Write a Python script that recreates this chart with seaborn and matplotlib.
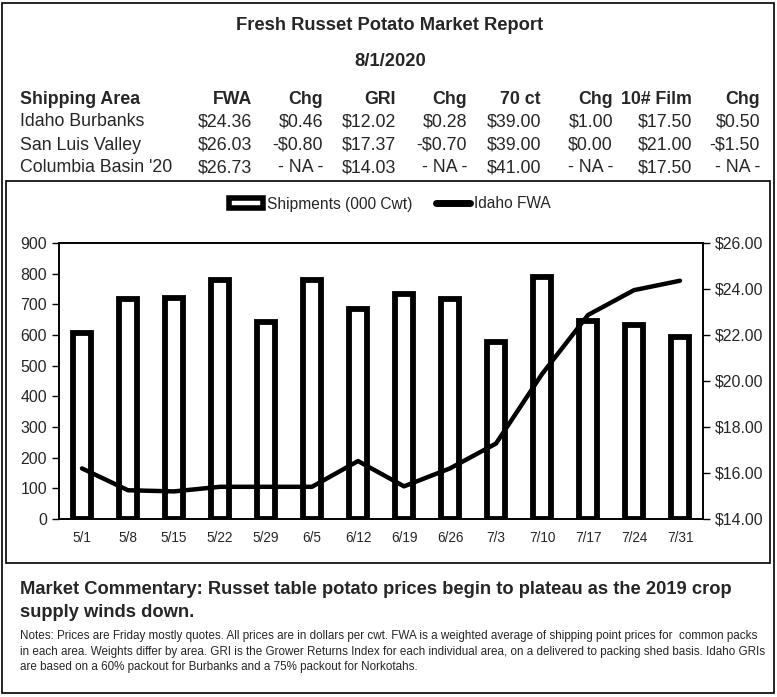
import seaborn as sns
import matplotlib.pyplot as plt, numpy as np
from matplotlib.patches import Rectangle, Patch
from matplotlib.lines import Line2D
from matplotlib.ticker import FuncFormatter

weeks = ['5/1','5/8','5/15','5/22','5/29','6/5','6/12','6/19','6/26','7/3','7/10','7/17','7/24','7/31']
shipments = [605, 718, 720, 780, 642, 778, 686, 735, 718, 578, 790, 645, 633, 595]
idaho_fwa = [16.20, 15.25, 15.20, 15.40, 15.40, 15.40, 16.52, 15.42, 16.20, 17.28, 20.30, 22.87, 23.95, 24.36]

header = ['Shipping Area', 'FWA', 'Chg', 'GRI', 'Chg', '70 ct', 'Chg', '10# Film', 'Chg']
areas = ['Idaho Burbanks', 'San Luis Valley', "Columbia Basin '20"]
rows = [['$24.36', '$0.46', '$12.02', '$0.28', '$39.00', '$1.00', '$17.50', '$0.50'],
        ['$26.03', '-$0.80', '$17.37', '-$0.70', '$39.00', '$0.00', '$21.00', '-$1.50'],
        ['$26.73', '- NA -', '$14.03', '- NA -', '$41.00', '- NA -', '$17.50', '- NA -']]

title = 'Fresh Russet Potato Market Report'
date = '8/1/2020'
comment = ('Market Commentary: Russet table potato prices begin to plateau as the 2019 crop\n'
           'supply winds down.')
notes = ['Notes: Prices are Friday mostly quotes. All prices are in dollars per cwt. FWA is a weighted average of shipping point prices for  common packs',
         'in each area. Weights differ by area. GRI is the Grower Returns Index for each individual area, on a delivered to packing shed basis. Idaho GRIs',
         'are based on a 60% packout for Burbanks and a 75% packout for Norkotahs.']

sns.set_style('white')
plt.rcParams['font.family'] = ['Liberation Sans', 'DejaVu Sans']

W, H = 777, 697
fig = plt.figure(figsize=(W/100, H/100), dpi=100)

def fx(x): return x / W
def fy(y): return 1 - y / H

# borders
fig.add_artist(Rectangle((fx(2), fy(693)), fx(772), (690)/H, transform=fig.transFigure,
                         fill=False, ec='black', lw=1.2))
fig.add_artist(Rectangle((fx(6), fy(563)), fx(764), (382)/H, transform=fig.transFigure,
                         fill=False, ec='black', lw=1.2))

# header text
fig.text(fx(390), fy(25), title, ha='center', va='center', fontsize=13.2, weight='bold')
fig.text(fx(390), fy(62), date, ha='center', va='center', fontsize=13.2, weight='bold')

col_right = [252, 323, 396, 467, 541, 613, 692, 760]
fig.text(fx(20), fy(99), header[0], ha='left', va='center', fontsize=12.8, weight='bold')
for xr, h in zip(col_right, header[1:]):
    fig.text(fx(xr), fy(99), h, ha='right', va='center', fontsize=12.8, weight='bold')
for i, (a, r) in enumerate(zip(areas, rows)):
    yy = 122 + 23 * i
    fig.text(fx(20), fy(yy), a, ha='left', va='center', fontsize=12.8)
    for xr, v in zip(col_right, r):
        fig.text(fx(xr), fy(yy), v, ha='right', va='center', fontsize=12.8)

# chart
ax = fig.add_axes([fx(59), fy(519), 644/W, 276/H])
sns.barplot(x=weeks, y=shipments, ax=ax, color='white', edgecolor='black',
            linewidth=4.2, width=0.39, saturation=1)
ax.set_ylim(0, 900)
ax.set_yticks(range(0, 901, 100))
ax.set_xlim(-0.5, len(weeks) - 0.5)
ax.set_xlabel('')
ax.set_ylabel('')
ax.set_xticks(range(len(weeks)))
ax.set_xticklabels(weeks, fontsize=9.8)
ax.set_xticks(np.arange(-0.5, len(weeks)), minor=True)
ax.tick_params(axis='x', which='major', length=0, pad=9)
ax.tick_params(axis='x', which='minor', length=5, width=1, direction='out', color='black')
ax.tick_params(axis='y', length=5, width=1, direction='out', color='black', labelsize=11.4, left=True)
for s in ax.spines.values():
    s.set_color('black')
    s.set_linewidth(1.2)

ax2 = ax.twinx()
sns.lineplot(x=np.arange(len(weeks)), y=idaho_fwa, ax=ax2, color='black', linewidth=3.2)
ax2.set_ylim(14, 26)
ax2.set_yticks(range(14, 27, 2))
ax2.yaxis.set_major_formatter(FuncFormatter(lambda v, p: f'${v:.2f}'))
ax2.tick_params(axis='y', length=5, width=1, direction='out', color='black', labelsize=11.4, right=True)
ax2.set_xlim(-0.5, len(weeks) - 0.5)
for s in ax2.spines.values():
    s.set_color('black')
    s.set_linewidth(1.2)

handles = [Patch(facecolor='white', edgecolor='black', linewidth=4),
           Line2D([], [], color='black', linewidth=5)]
fig.legend(handles, ['Shipments (000 Cwt)', 'Idaho FWA'], loc='center',
           bbox_to_anchor=(fx(390), fy(204)), ncol=2, frameon=False, fontsize=11.2,
           handlelength=2.2, handletextpad=0.25, columnspacing=1.5, handleheight=0.55)

# commentary
fig.text(fx(20), fy(601), comment, ha='left', va='center', fontsize=13.2, weight='bold',
         linespacing=1.4)
for i, n in enumerate(notes):
    fig.text(fx(20), fy(636 + 15.5 * i), n, ha='left', va='center', fontsize=8.35)

fig.savefig('out.png', dpi=100)
